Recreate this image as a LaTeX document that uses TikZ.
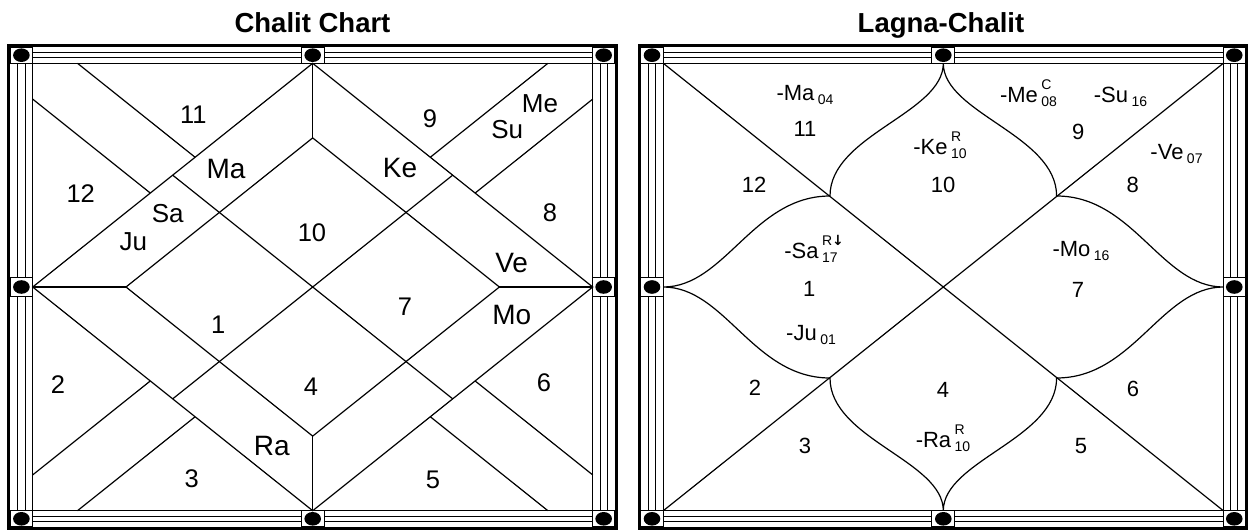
\documentclass[tikz,border=0pt]{standalone}
\usepackage{fontspec}
\setmainfont{Liberation Sans}
\newfontfamily\arrowfont{DejaVu Sans}

% planet with degree (sub) and flags (sup)
\newcommand\pl[3]{#1\kern3.5pt\rlap{\raisebox{12.5pt}{\fontsize{14}{14}\selectfont #2}}\raisebox{-4pt}{\fontsize{14}{14}\selectfont #3}}

% frame of one chart, inner area 560 x 447.4
\newcommand\chartframe{%
  \draw[stripline] (-22.6,-5.4) -- (581.9,-5.4) (-22.6,-10.8) -- (581.9,-10.8)
    (-22.6,452.8) -- (581.9,452.8) (-22.6,458.2) -- (581.9,458.2)
    (-7.5,-16.2) -- (-7.5,463.6) (-15.1,-16.2) -- (-15.1,463.6)
    (567.3,-16.2) -- (567.3,463.6) (574.6,-16.2) -- (574.6,463.6);
  \draw[line width=1.2pt] (0,0) rectangle (560,447.4);
  \draw[line width=3.2pt] (-24.2,-17.8) rectangle (583.5,465.2);
  \filldraw[stripline, fill=white]
    (-22.6,-16.2) rectangle (0,0) (560,-16.2) rectangle (581.9,0)
    (-22.6,447.4) rectangle (0,463.6) (560,447.4) rectangle (581.9,463.6)
    (268.35,-16.2) rectangle (291.65,0) (268.35,447.4) rectangle (291.65,463.6)
    (-22.6,214.5) rectangle (0,232.9) (560,214.5) rectangle (581.9,232.9);
  \fill (-11.3,-8.1) ellipse [x radius=8.3pt, y radius=6.8pt]
    (570.95,-8.1) ellipse [x radius=8.3pt, y radius=6.8pt]
    (-11.3,455.5) ellipse [x radius=8.3pt, y radius=6.8pt]
    (570.95,455.5) ellipse [x radius=8.3pt, y radius=6.8pt]
    (280,-8.1) ellipse [x radius=8.3pt, y radius=6.8pt]
    (280,455.5) ellipse [x radius=8.3pt, y radius=6.8pt]
    (-11.3,223.7) ellipse [x radius=8.3pt, y radius=6.8pt]
    (570.95,223.7) ellipse [x radius=8.3pt, y radius=6.8pt];
}

\begin{document}
\begin{tikzpicture}[x=1pt, y=-1pt,
  chartline/.style={line width=1.2pt},
  stripline/.style={line width=1pt},
  charttitle/.style={anchor=base, inner sep=0pt, font=\fontsize{27.5}{32}\selectfont\bfseries},
  house/.style={inner sep=0pt, font=\fontsize{25.5}{30}\selectfont},
  bigplanet/.style={inner sep=0pt, font=\fontsize{28}{32}\selectfont},
  smallplanet/.style={inner sep=0pt, font=\fontsize{26}{30}\selectfont},
  rhouse/.style={inner sep=0pt, font=\fontsize{22}{26}\selectfont},
  rplanet/.style={inner sep=0pt, anchor=base, font=\fontsize{22}{26}\selectfont}]
	\fill[white] (0,0) rectangle (1250,530);
	\useasboundingbox (0,0) rectangle (1250,530);
	% Titles
	\node[charttitle] (tleft)  at (312.5,32.7) {Chalit Chart};
	\node[charttitle] (tright) at (941,32.7)   {Lagna-Chalit};

	% Chalit chart
	\begin{scope}[shift={(32.7,63.3)}]
		\chartframe
		\draw[chartline] (280,0) -- (560,223.7) -- (280,447.4) -- (0,223.7) -- cycle;
		\draw[chartline] (280,74.6) -- (466.7,223.7) -- (280,372.8) -- (93.3,223.7) -- cycle;
		\draw[chartline] (280,0) -- (280,74.6) (280,372.8) -- (280,447.4)
			(0,223.7) -- (93.3,223.7) (466.7,223.7) -- (560,223.7);
		\draw[chartline] (140,111.85) -- (420,335.55) (420,111.85) -- (140,335.55);
		\draw[chartline] (0,35.8) -- (117.6,129.75) (44.8,0) -- (162.4,93.95)
			(560,35.8) -- (442.4,129.75) (515.2,0) -- (397.6,93.95)
			(0,411.6) -- (117.6,317.65) (44.8,447.4) -- (162.4,353.45)
			(560,411.6) -- (442.4,317.65) (515.2,447.4) -- (397.6,353.45);
		% Houses and planets
		\node[house]       (l11) at (160.6,51.7)  {11};
		\node[house]       (l9)  at (397.3,55)    {9};
		\node[smallplanet] (lMe) at (507.3,40)    {Me};
		\node[smallplanet] (lSu) at (474.6,66)    {Su};
		\node[house]       (l12) at (48,130)      {12};
		\node[bigplanet]   (lMa) at (193.3,106)   {Ma};
		\node[bigplanet]   (lKe) at (367.3,105)   {Ke};
		\node[smallplanet] (lSa) at (135,150)     {Sa};
		\node[smallplanet] (lJu) at (100.6,178.4) {Ju};
		\node[house]       (l10) at (279.3,169.7) {10};
		\node[house]       (l8)  at (517.3,149)   {8};
		\node[bigplanet]   (lVe) at (479,200)     {Ve};
		\node[house]       (l1)  at (185.6,261.7) {1};
		\node[house]       (l7)  at (372.3,243.4) {7};
		\node[bigplanet]   (lMo) at (479,251.7)   {Mo};
		\node[house]       (l2)  at (25.3,321.7)  {2};
		\node[house]       (l4)  at (278.3,323.4) {4};
		\node[house]       (l6)  at (511.3,319.7) {6};
		\node[bigplanet]   (lRa) at (239,382.7)   {Ra};
		\node[house]       (l3)  at (159,415)     {3};
		\node[house]       (l5)  at (400.3,416.7) {5};
	\end{scope}

	% Lagna-Chalit chart
	\begin{scope}[shift={(663.3,63.3)}]
		\chartframe
		\coordinate (rT) at (280,0);
		\coordinate (rB) at (280,447.4);
		\coordinate (rL) at (0,223.7);
		\coordinate (rR) at (560,223.7);
		\coordinate (rTL) at (166.7,132.7);
		\coordinate (rTR) at (393.3,132.7);
		\coordinate (rBL) at (166.7,314.7);
		\coordinate (rBR) at (393.3,314.7);
		\draw[chartline] (0,0) -- (560,447.4) (560,0) -- (0,447.4);
		\draw[chartline]
			(rT) .. controls +(0,50) and +(0,-61) .. (rTL)
			(rT) .. controls +(0,50) and +(0,-61) .. (rTR)
			(rB) .. controls +(0,-50) and +(0,61) .. (rBL)
			(rB) .. controls +(0,-50) and +(0,61) .. (rBR)
			(rL) .. controls +(61.7,0) and +(-76.7,0) .. (rTL)
			(rL) .. controls +(61.7,0) and +(-76.7,0) .. (rBL)
			(rR) .. controls +(-61.7,0) and +(76.7,0) .. (rTR)
			(rR) .. controls +(-61.7,0) and +(76.7,0) .. (rBR);
		% Houses and planets
		\node[rhouse] (r11) at (141.7,66)    {11};
		\node[rhouse] (r12) at (90.7,121.7)  {12};
		\node[rhouse] (r10) at (279.7,121.7) {10};
		\node[rhouse] (r9)  at (415,68.4)    {9};
		\node[rhouse] (r8)  at (469.4,121.7) {8};
		\node[rhouse] (r1)  at (146,226)     {1};
		\node[rhouse] (r7)  at (414.7,226.7) {7};
		\node[rhouse] (r2)  at (91.7,324.7)  {2};
		\node[rhouse] (r4)  at (279.7,326.7) {4};
		\node[rhouse] (r6)  at (469.7,325.7) {6};
		\node[rhouse] (r3)  at (141.7,382.7) {3};
		\node[rhouse] (r5)  at (417.7,382.7) {5};
		\node[rplanet] (rMa) at (141.7,36.7) {\pl{-Ma}{}{04}};
		\node[rplanet] (rKe) at (276.7,90.7) {\pl{-Ke}{R}{10}};
		\node[rplanet] (rMe) at (365.2,39)   {\pl{-Me}{C}{08}};
		\node[rplanet] (rSu) at (457.2,39)   {\pl{-Su}{}{16}};
		\node[rplanet] (rVe) at (513.2,96)   {\pl{-Ve}{}{07}};
		\node[rplanet] (rSa) at (147.7,195)  {\pl{-Sa}{R{\arrowfont\bfseries ↓}}{17}};
		\node[rplanet] (rJu) at (147.7,277.4) {\pl{-Ju}{}{01}};
		\node[rplanet] (rMo) at (417.7,192.7) {\pl{-Mo}{}{16}};
		\node[rplanet] (rRa) at (279.7,384)  {\pl{-Ra}{R}{10}};
	\end{scope}
\end{tikzpicture}
\end{document}
